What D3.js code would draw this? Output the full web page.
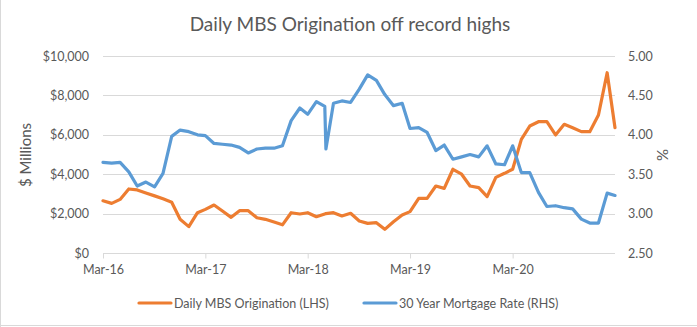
<!DOCTYPE html>
<html>
<head>
<meta charset="utf-8">
<script src="https://cdn.jsdelivr.net/npm/d3@7"></script>
<style>
  html, body { margin: 0; padding: 0; background: #fff; }
  svg { display: block; font-family: Lato, "Open Sans", sans-serif; }
</style>
</head>
<body>
<svg id="chart" width="697" height="327"></svg>
<script>
// ---- data ----
const dates = [
  "2016-03-01","2016-04-01","2016-05-01","2016-06-01","2016-07-01","2016-08-01","2016-09-01","2016-10-01",
  "2016-11-01","2016-12-01","2017-01-01","2017-02-01","2017-03-01","2017-04-01","2017-05-01","2017-06-01",
  "2017-07-01","2017-08-01","2017-09-01","2017-10-01","2017-11-01","2017-12-01","2018-01-01","2018-02-01",
  "2018-03-01","2018-04-01","2018-05-01","2018-05-05","2018-06-01","2018-07-01","2018-08-01","2018-09-01",
  "2018-10-01","2018-11-01","2018-12-01","2019-01-01","2019-02-01","2019-03-01","2019-04-01","2019-05-01",
  "2019-06-01","2019-07-01","2019-08-01","2019-09-01","2019-10-01","2019-11-01","2019-12-01","2020-01-01",
  "2020-02-01","2020-03-01","2020-04-01","2020-05-01","2020-06-01","2020-07-01","2020-08-01","2020-09-01",
  "2020-10-01","2020-11-01","2020-12-01","2021-01-01","2021-02-01","2021-03-01"
];
const mbsOrigination = [
  2650,2520,2720,3250,3200,3050,2900,2750,
  2580,1710,1340,2045,2215,2435,2130,1810,
  2150,2150,1790,1710,1570,1430,2045,1980,
  2045,1840,1980,2000,2045,1880,2015,1625,
  1505,1540,1200,1590,1930,2100,2775,2775,
  3400,3280,4250,4000,3400,3315,2860,3840,
  4045,4250,5770,6445,6665,6665,5990,6530,
  6360,6160,6160,7005,9150,6360
];
const mortgageRate = [
  3.65,3.64,3.65,3.53,3.35,3.40,3.34,3.51,
  3.98,4.06,4.04,4.00,3.99,3.89,3.88,3.87,
  3.84,3.77,3.82,3.83,3.83,3.86,4.18,4.34,
  4.26,4.42,4.36,3.82,4.40,4.43,4.41,4.58,
  4.76,4.69,4.51,4.37,4.40,4.08,4.09,4.03,
  3.80,3.87,3.69,3.72,3.75,3.72,3.86,3.63,
  3.62,3.86,3.52,3.52,3.27,3.09,3.10,3.075,
  3.06,2.93,2.88,2.88,3.26,3.23
];
const xTickDates = ["2016-03-01","2017-03-01","2018-03-01","2019-03-01","2020-03-01"];
const xTickLabels = ["Mar-16","Mar-17","Mar-18","Mar-19","Mar-20"];
const leftTicks = [0, 2000, 4000, 6000, 8000, 10000];
const rightTicks = [2.5, 3.0, 3.5, 4.0, 4.5, 5.0];
const seriesNames = ["Daily MBS Origination (LHS)", "30 Year Mortgage Rate (RHS)"];
const titleText = "Daily MBS Origination off record highs";

// ---- layout ----
const W = 697, H = 327;
const plot = { left: 103, right: 615, top: 56, bottom: 253 };
const ORANGE = "#ED7D31", BLUE = "#5B9BD5", GRID = "#D9D9D9", TEXT = "#595959";

const svg = d3.select("#chart");
const parse = d3.utcParse("%Y-%m-%d");
const dts = dates.map(parse);

const x = d3.scaleUtc().domain([parse("2016-03-01"), parse("2021-03-01")]).range([plot.left, plot.right]);
const yL = d3.scaleLinear().domain([0, 10000]).range([plot.bottom, plot.top]);
const yR = d3.scaleLinear().domain([2.5, 5]).range([plot.bottom, plot.top]);

// chart border (left & bottom visible)
svg.append("line").attr("x1", 0.5).attr("x2", 0.5).attr("y1", 0).attr("y2", H).attr("stroke", GRID);
svg.append("line").attr("x1", 0).attr("x2", W).attr("y1", 325.5).attr("y2", 325.5).attr("stroke", GRID);

// title
svg.append("text").attr("x", 350).attr("y", 31).attr("text-anchor", "middle")
  .attr("fill", TEXT).attr("font-size", 19).text(titleText);

// gridlines
svg.append("g").selectAll("line").data(leftTicks.slice(1)).join("line")
  .attr("x1", plot.left).attr("x2", plot.right)
  .attr("y1", d => Math.round(yL(d)) + 0.5).attr("y2", d => Math.round(yL(d)) + 0.5)
  .attr("stroke", GRID).attr("stroke-width", 1);

// left axis
const leftAxis = d3.axisLeft(yL).tickValues(leftTicks).tickSize(0).tickPadding(14)
  .tickFormat(d => "$" + d3.format(",")(d));
const gL = svg.append("g").attr("transform", `translate(${plot.left},0)`).call(leftAxis);
gL.select(".domain").remove();
gL.selectAll("text").attr("fill", TEXT).attr("font-size", 12.5).attr("font-family", "Lato");

// right axis
const rightAxis = d3.axisRight(yR).tickValues(rightTicks).tickSize(0).tickPadding(13)
  .tickFormat(d3.format(".2f"));
const gR = svg.append("g").attr("transform", `translate(${plot.right},0)`).call(rightAxis);
gR.select(".domain").remove();
gR.selectAll("text").attr("fill", TEXT).attr("font-size", 12.5).attr("font-family", "Lato");

// bottom axis
const bottomAxis = d3.axisBottom(x).tickValues(xTickDates.map(parse)).tickSize(5).tickPadding(7)
  .tickFormat((d, i) => xTickLabels[i]);
const gB = svg.append("g").attr("transform", `translate(0,${plot.bottom + 0.5})`).call(bottomAxis);
gB.select(".domain").attr("stroke", GRID).attr("d", `M${plot.left},0H${plot.right}`);
gB.selectAll(".tick line").attr("stroke", GRID);
gB.selectAll("text").attr("fill", TEXT).attr("font-size", 12.5).attr("font-family", "Lato");

// axis titles
svg.append("text").attr("transform", `translate(31,155) rotate(-90)`).attr("text-anchor", "middle")
  .attr("fill", TEXT).attr("font-size", 15).text("$ Millions");
svg.append("text").attr("transform", `translate(668,155) rotate(-90)`).attr("text-anchor", "middle")
  .attr("fill", TEXT).attr("font-size", 15).text("%");

// lines
const lineL = d3.line().x((d, i) => x(dts[i])).y(d => yL(d));
const lineR = d3.line().x((d, i) => x(dts[i])).y(d => yR(d));
svg.append("path").datum(mbsOrigination).attr("d", lineL).attr("fill", "none")
  .attr("stroke", ORANGE).attr("stroke-width", 3.2).attr("stroke-linejoin", "round").attr("stroke-linecap", "round");
svg.append("path").datum(mortgageRate).attr("d", lineR).attr("fill", "none")
  .attr("stroke", BLUE).attr("stroke-width", 3.2).attr("stroke-linejoin", "round").attr("stroke-linecap", "round");

// legend
const legend = [
  { name: seriesNames[0], color: ORANGE, x: 139 },
  { name: seriesNames[1], color: BLUE, x: 364 }
];
const lg = svg.append("g").selectAll("g").data(legend).join("g")
  .attr("transform", d => `translate(${d.x},303)`);
lg.append("line").attr("x1", 0).attr("x2", 32).attr("y1", 0).attr("y2", 0)
  .attr("stroke", d => d.color).attr("stroke-width", 3.2).attr("stroke-linecap", "round");
lg.append("text").attr("x", 35).attr("y", 4.5).attr("fill", TEXT).attr("font-size", 12.5)
  .text(d => d.name);
</script>
</body>
</html>
